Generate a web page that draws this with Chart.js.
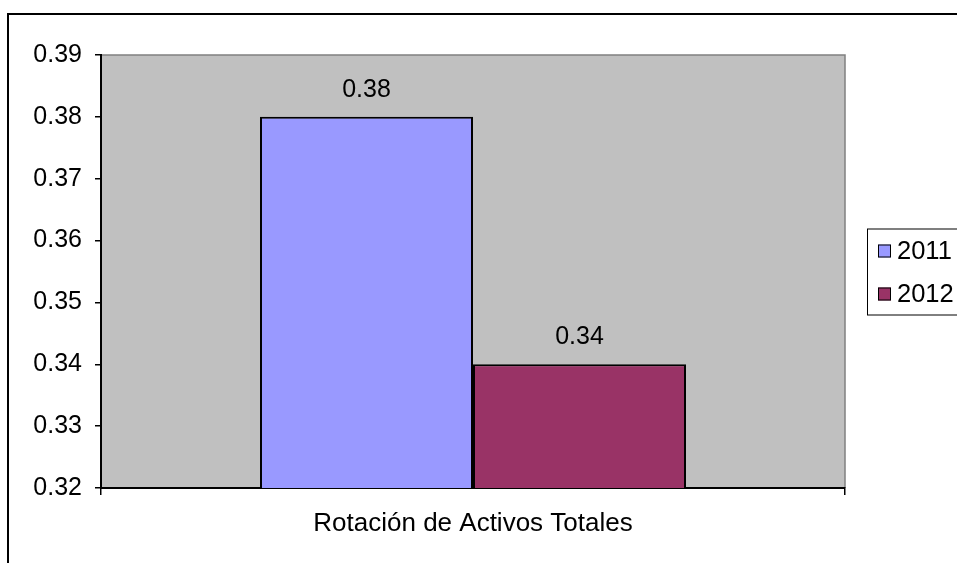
<!DOCTYPE html>
<html>
<head>
<meta charset="utf-8">
<script src="https://cdn.jsdelivr.net/npm/chart.js@4/dist/chart.umd.min.js"></script>
<style>
  body { margin: 0; background: #fff; }
</style>
</head>
<body>
<canvas id="rotacionChart" width="957" height="563"></canvas>
<script>
// Data
const categories = ["Rotación de Activos Totales"];
const years = ["2011", "2012"];
const values2011 = [0.38];
const values2012 = [0.34];
const yTicks = [0.32, 0.33, 0.34, 0.35, 0.36, 0.37, 0.38, 0.39];

const barColors = ["#9999FF", "#993366"];
const fontFamily = "'Liberation Sans', Arial, sans-serif";

// Plugin to paint the gray plot area and the outer frame
const backgroundPlugin = {
  id: "background",
  beforeDraw(chart) {
    const ctx = chart.ctx;
    const a = chart.chartArea;
    ctx.save();
    ctx.fillStyle = "#ffffff";
    ctx.fillRect(0, 0, chart.width, chart.height);
    // outer frame (runs off the right and bottom edge)
    ctx.strokeStyle = "#000000";
    ctx.lineWidth = 2;
    ctx.strokeRect(8, 14, chart.width + 10, chart.height + 10);
    // plot area
    ctx.fillStyle = "#C0C0C0";
    ctx.fillRect(a.left, a.top, a.right - a.left, a.bottom - a.top);
    ctx.strokeStyle = "#808080";
    ctx.lineWidth = 1.5;
    ctx.beginPath();
    ctx.moveTo(a.left, a.top);
    ctx.lineTo(a.right, a.top);
    ctx.lineTo(a.right, a.bottom);
    ctx.stroke();
    ctx.restore();
  },
};

// Plugin to write the value above each bar
const valueLabels = {
  id: "valueLabels",
  afterDatasetsDraw(chart) {
    const ctx = chart.ctx;
    ctx.save();
    ctx.font = "25px " + fontFamily;
    ctx.fillStyle = "#000000";
    ctx.textAlign = "center";
    ctx.textBaseline = "alphabetic";
    chart.data.datasets.forEach((ds, i) => {
      chart.getDatasetMeta(i).data.forEach((bar, j) => {
        ctx.fillText(ds.data[j].toFixed(2), bar.x, bar.y - 20);
      });
    });
    ctx.restore();
  },
};

// Plugin for the boxed legend on the right
const boxLegend = {
  id: "boxLegend",
  afterDraw(chart) {
    const ctx = chart.ctx;
    const a = chart.chartArea;
    const left = a.right + 22;
    const mid = (a.top + a.bottom) / 2;
    const top = mid - 43;
    ctx.save();
    ctx.strokeStyle = "#000000";
    ctx.lineWidth = 1;
    ctx.strokeRect(left + 0.5, top + 0.5, 200, 86);
    ctx.font = "25.5px " + fontFamily;
    ctx.textAlign = "left";
    ctx.textBaseline = "middle";
    chart.data.datasets.forEach((ds, i) => {
      const y = top + 22 + i * 43;
      ctx.fillStyle = ds.backgroundColor;
      ctx.fillRect(left + 11, y - 6, 13, 13);
      ctx.strokeStyle = "#000000";
      ctx.strokeRect(left + 11.5, y - 5.5, 12, 12);
      ctx.fillStyle = "#000000";
      ctx.fillText(ds.label, left + 30, y + 1);
    });
    ctx.restore();
  },
};

const chart = new Chart("rotacionChart", {
  type: "bar",
  data: {
    labels: categories,
    datasets: [
      {
        label: years[0],
        data: values2011,
        backgroundColor: barColors[0],
        borderColor: "#000000",
        borderWidth: 2,
      },
      {
        label: years[1],
        data: values2012,
        backgroundColor: barColors[1],
        borderColor: "#000000",
        borderWidth: 2,
      },
    ],
  },
  options: {
    responsive: false,
    animation: false,
    categoryPercentage: 0.5726,
    barPercentage: 1,
    layout: {
      padding: { left: 0, top: 55, right: 112, bottom: 0 },
    },
    plugins: {
      legend: { display: false },
      tooltip: { enabled: false },
    },
    scales: {
      x: {
        offset: true,
        grid: {
          offset: true,
          drawOnChartArea: false,
          tickLength: 7,
          color: "#000000",
          lineWidth: 1.5,
        },
        border: { color: "#000000", width: 2 },
        ticks: {
          color: "#000000",
          font: { family: fontFamily, size: 26 },
          padding: 13,
        },
        afterFit(scale) {
          scale.height = 75;
        },
      },
      y: {
        min: yTicks[0],
        max: yTicks[yTicks.length - 1],
        afterBuildTicks(scale) {
          scale.ticks = yTicks.map((v) => ({ value: v }));
        },
        grid: {
          drawOnChartArea: false,
          tickLength: 6,
          color: "#000000",
          lineWidth: 1.5,
        },
        border: { color: "#000000", width: 2 },
        ticks: {
          color: "#000000",
          font: { family: fontFamily, size: 25 },
          padding: 13,
          callback: (v) => v.toFixed(2),
        },
        afterFit(scale) {
          scale.width = 101;
        },
      },
    },
  },
  plugins: [backgroundPlugin, valueLabels, boxLegend],
});
</script>
</body>
</html>
